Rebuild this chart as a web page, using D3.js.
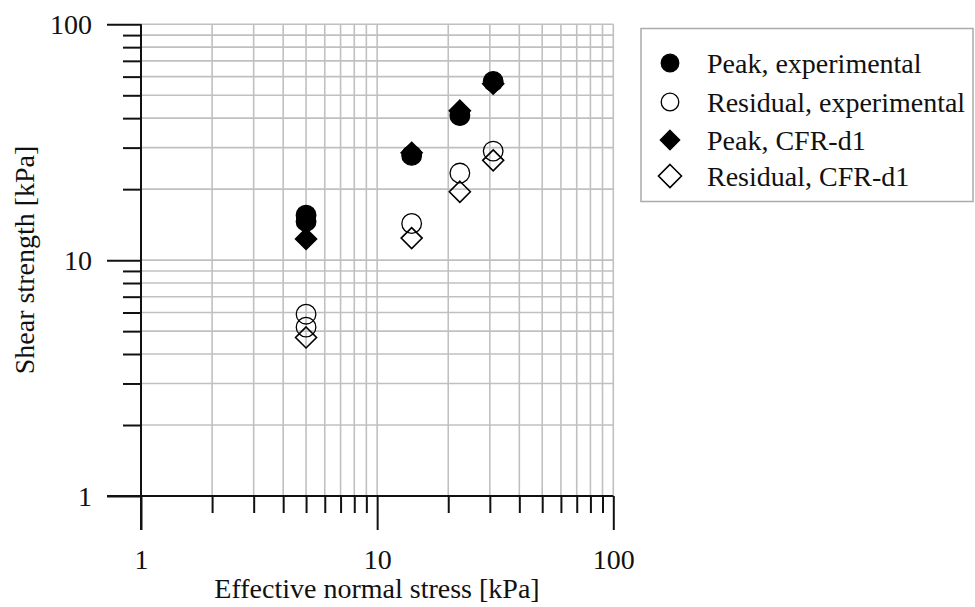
<!DOCTYPE html>
<html>
<head>
<meta charset="utf-8">
<script src="https://cdn.jsdelivr.net/npm/d3@7"></script>
<style>
  html, body { margin: 0; padding: 0; background: #fff; }
  svg { display: block; font-family: "Liberation Serif", "DejaVu Serif", serif; }
</style>
</head>
<body>
<svg id="chart" width="975" height="607"></svg>
<script>
// Shear strength vs effective normal stress (log-log)
const seriesNames = ["Peak, experimental", "Residual, experimental", "Peak, CFR-d1", "Residual, CFR-d1"];

const peakExpX = [5, 5, 14, 22.4, 31];
const peakExpY = [15.5, 14.6, 27.8, 41.0, 57.3];

const resExpX = [5, 5, 14, 22.4, 31];
const resExpY = [5.9, 5.2, 14.3, 23.4, 29.0];

const peakCfrX = [5, 14, 22.4, 31];
const peakCfrY = [12.3, 28.5, 43.0, 56.0];

const resCfrX = [5, 14, 22.4, 31];
const resCfrY = [4.7, 12.4, 19.5, 26.5];

const xTickLabels = ["1", "10", "100"];
const yTickLabels = ["1", "10", "100"];

const svg = d3.select("#chart");
const plotLeft = 141, plotRight = 613.3, plotTop = 24.3, plotBottom = 496;
const FONT = 28;

const x = d3.scaleLog().domain([1, 100]).range([plotLeft, plotRight]);
const y = d3.scaleLog().domain([1, 100]).range([plotBottom, plotTop]);

// all decade ticks 1..100
const allTicks = [];
for (let d = 1; d <= 10; d *= 10) for (let k = 1; k <= 9; k++) allTicks.push(k * d);
allTicks.push(100);
const majors = [1, 10, 100];
const minors = allTicks.filter(v => !majors.includes(v));

// grid
const grid = svg.append("g").attr("stroke", "#c0c0c0").attr("stroke-width", 1.6);
grid.selectAll("line.vx").data(allTicks.filter(v => v > 1)).join("line")
  .attr("x1", d => x(d)).attr("x2", d => x(d)).attr("y1", plotTop).attr("y2", plotBottom);
grid.selectAll("line.hy").data(allTicks.filter(v => v > 1)).join("line")
  .attr("y1", d => y(d)).attr("y2", d => y(d)).attr("x1", plotLeft).attr("x2", plotRight);

// axes: minor ticks short, decade ticks long, both outside
const xAxisMinor = d3.axisBottom(x).tickValues(minors).tickSize(17).tickFormat("");
const xAxisMajor = d3.axisBottom(x).tickValues(majors).tickSize(34)
  .tickFormat((d, i) => xTickLabels[i]);
const yAxisMinor = d3.axisLeft(y).tickValues(minors).tickSize(18).tickFormat("");
const yAxisMajor = d3.axisLeft(y).tickValues(majors).tickSize(34)
  .tickFormat((d, i) => yTickLabels[i]);

function styleAxis(g) {
  g.select(".domain").remove();
  g.selectAll(".tick line").attr("stroke", "#111").attr("stroke-width", 2);
  g.selectAll(".tick text").attr("fill", "#111").attr("font-size", FONT)
    .attr("font-family", "Liberation Serif, serif");
}

svg.append("g").attr("transform", `translate(0,${plotBottom})`).call(xAxisMinor).call(styleAxis);
svg.append("g").attr("transform", `translate(0,${plotBottom})`).call(xAxisMajor).call(styleAxis)
  .selectAll(".tick text").attr("y", 73).attr("dy", 0);
svg.append("g").attr("transform", `translate(${plotLeft},0)`).call(yAxisMinor).call(styleAxis);
svg.append("g").attr("transform", `translate(${plotLeft},0)`).call(yAxisMajor).call(styleAxis)
  .selectAll(".tick text").attr("x", -49).attr("dy", "0.34em");

// axis lines
svg.append("line").attr("x1", plotLeft - 34).attr("x2", plotRight).attr("y1", plotBottom).attr("y2", plotBottom)
  .attr("stroke", "#111").attr("stroke-width", 2);
svg.append("line").attr("x1", plotLeft).attr("x2", plotLeft).attr("y1", plotTop).attr("y2", plotBottom + 34)
  .attr("stroke", "#111").attr("stroke-width", 2);

// axis titles
svg.append("text").attr("x", 377).attr("y", 598).attr("text-anchor", "middle")
  .attr("font-size", FONT).attr("fill", "#111").text("Effective normal stress [kPa]");
svg.append("text").attr("transform", `translate(34,260) rotate(-90)`)
  .attr("text-anchor", "middle").attr("font-size", FONT).attr("fill", "#111")
  .text("Shear strength [kPa]");

// markers
const diamond = s => `M0,${-s}L${s},0L0,${s}L${-s},0Z`;
const styles = [
  { type: "circle", fill: "#000" },
  { type: "circle", fill: "none" },
  { type: "diamond", fill: "#000" },
  { type: "diamond", fill: "none" }
];
function drawMarker(g, st, r, s) {
  if (st.type === "circle") {
    g.append("circle").attr("r", r)
      .attr("fill", st.fill === "none" ? "none" : "#000").attr("stroke", "#000").attr("stroke-width", 1.3);
  } else {
    g.append("path").attr("d", diamond(s))
      .attr("fill", st.fill === "none" ? "none" : "#000").attr("stroke", "#000").attr("stroke-width", 1.6);
  }
}

const data = [
  d3.zip(peakExpX, peakExpY),
  d3.zip(resExpX, resExpY),
  d3.zip(peakCfrX, peakCfrY),
  d3.zip(resCfrX, resCfrY)
];
const drawOrder = [1, 3, 0, 2];
drawOrder.forEach(si => {
  const g = svg.append("g");
  data[si].forEach(([vx, vy]) => {
    const m = g.append("g").attr("transform", `translate(${x(vx)},${y(vy)})`);
    drawMarker(m, styles[si], 9.8, 10.5);
  });
});

// legend
const lg = svg.append("g");
lg.append("rect").attr("x", 641).attr("y", 28.5).attr("width", 332).attr("height", 173)
  .attr("fill", "#fff").attr("stroke", "#aaa").attr("stroke-width", 1.5);
const rowY = [63, 102, 140, 176];
seriesNames.forEach((name, i) => {
  const m = lg.append("g").attr("transform", `translate(670,${rowY[i]})`);
  drawMarker(m, styles[i], 8.8, i === 3 ? 11.5 : 9.5);
  lg.append("text").attr("x", 707).attr("y", rowY[i]).attr("dy", "0.34em")
    .attr("font-size", FONT).attr("fill", "#111").text(name);
});
</script>
</body>
</html>
